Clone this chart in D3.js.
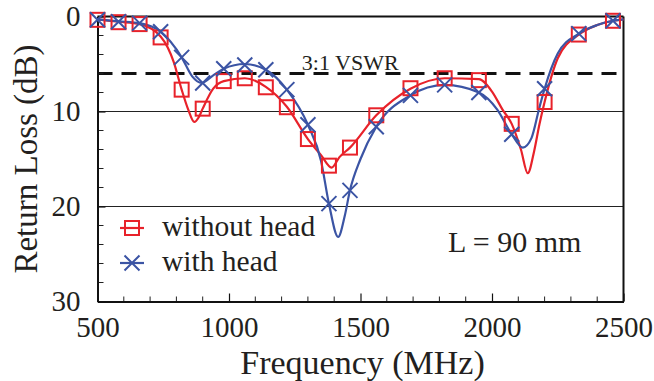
<!DOCTYPE html>
<html>
<head>
<meta charset="utf-8">
<script src="https://cdn.jsdelivr.net/npm/d3@7"></script>
<style>
  body { margin: 0; background: #fff; }
</style>
</head>
<body>
<svg id="chart" width="654" height="381" font-family="Liberation Serif, DejaVu Serif, Times New Roman, serif"></svg>
<script>
// marker frequencies (MHz)
const markerFreq = [500, 580, 660, 740, 820, 900, 980, 1060, 1140, 1220, 1300, 1380, 1460, 1560, 1690, 1820, 1950, 2075, 2200, 2330, 2460];
// return loss at markers (dB)
const noHeadMarks = [0.35, 0.6, 0.8, 2.2, 7.7, 9.7, 6.8, 6.5, 7.45, 9.55, 12.9, 15.7, 13.8, 10.4, 7.55, 6.5, 6.7, 11.3, 9.0, 1.9, 0.45];
const headMarks = [0.35, 0.55, 0.7, 1.6, 4.3, 7.0, 5.5, 5.1, 5.6, 7.7, 11.4, 19.7, 18.3, 11.6, 8.3, 7.2, 8.0, 12.4, 7.6, 1.8, 0.45];

// smooth traces
const noHeadFreq = [500, 580, 660, 740, 790, 820, 845, 868, 885, 900, 940, 980, 1060, 1140, 1220, 1300, 1350, 1390, 1420, 1460, 1560, 1690, 1820, 1950, 2000, 2040, 2075, 2110, 2136, 2160, 2180, 2200, 2250, 2330, 2400, 2460, 2500];
const noHeadLoss = [0.3, 0.55, 0.8, 2.1, 4.8, 7.7, 9.8, 11.1, 10.6, 9.7, 7.6, 6.8, 6.5, 7.4, 9.5, 12.9, 14.6, 15.9, 14.8, 13.8, 10.4, 7.6, 6.5, 6.6, 7.9, 9.8, 11.3, 14.0, 16.5, 14.2, 11.4, 9.0, 4.4, 1.9, 0.9, 0.45, 0.3];
const headFreq = [500, 580, 660, 740, 820, 860, 896, 940, 980, 1060, 1140, 1220, 1300, 1350, 1380, 1415, 1440, 1460, 1500, 1560, 1690, 1820, 1950, 2020, 2075, 2117, 2150, 2180, 2200, 2250, 2330, 2400, 2460, 2500];
const headLoss = [0.3, 0.5, 0.7, 1.6, 4.3, 6.3, 7.0, 6.2, 5.5, 5.0, 5.6, 7.7, 11.4, 15.2, 19.7, 23.2, 21.0, 18.3, 15.0, 11.6, 8.3, 7.2, 8.0, 9.8, 12.4, 13.8, 12.8, 9.6, 7.6, 3.9, 1.8, 0.9, 0.45, 0.3];

const xTicks = [500, 1000, 1500, 2000, 2500];
const yTicks = [0, 10, 20, 30];
const gridLevels = [10, 20];
const vswrLevel = 6;

const red = '#e8222a';
const blue = '#3b54a4';
const ink = '#231f20';

const svg = d3.select('#chart');
const margin = { top: 16.5, right: 30.5, bottom: 79.5, left: 97.5 };
const width = +svg.attr('width') - margin.left - margin.right;
const height = +svg.attr('height') - margin.top - margin.bottom;

const x = d3.scaleLinear().domain([500, 2500]).range([0, width]);
const y = d3.scaleLinear().domain([0, 30]).range([0, height]);

const g = svg.append('g')
    .attr('transform', 'translate(' + margin.left + ',' + margin.top + ')');

// grid lines at 10 and 20 dB
g.selectAll('.grid')
    .data(gridLevels)
    .enter().append('line')
    .attr('x1', 0).attr('x2', width)
    .attr('y1', d => y(d)).attr('y2', d => y(d))
    .attr('stroke', '#222').attr('stroke-width', 1);

// 3:1 VSWR dashed line
g.append('line')
    .attr('x1', 0).attr('x2', width)
    .attr('y1', y(vswrLevel)).attr('y2', y(vswrLevel))
    .attr('stroke', '#111').attr('stroke-width', 3)
    .attr('stroke-dasharray', '15,9');

g.append('text')
    .attr('x', x(1277)).attr('y', y(vswrLevel) - 4)
    .attr('font-size', 22).attr('fill', ink)
    .text('3:1 VSWR');

// minor ticks (inward)
const xMinor = d3.range(600, 2500, 100).filter(d => d % 500 !== 0);
g.selectAll('.xminor')
    .data(xMinor)
    .enter().append('line')
    .attr('x1', d => x(d)).attr('x2', d => x(d))
    .attr('y1', height).attr('y2', height - 5)
    .attr('stroke', '#222').attr('stroke-width', 1);

const yMinor = d3.range(2, 30, 2).filter(d => d % 10 !== 0);
g.selectAll('.yminor')
    .data(yMinor)
    .enter().append('line')
    .attr('x1', 0).attr('x2', 6)
    .attr('y1', d => y(d)).attr('y2', d => y(d))
    .attr('stroke', '#222').attr('stroke-width', 1);

// axes
const xAxis = g.append('g')
    .attr('transform', 'translate(0,' + height + ')')
    .call(d3.axisBottom(x).tickValues(xTicks).tickFormat(d3.format('d'))
      .tickSizeInner(-8).tickSizeOuter(0).tickPadding(15));
const yAxis = g.append('g')
    .call(d3.axisLeft(y).tickValues(yTicks).tickFormat(d3.format('d'))
      .tickSizeInner(-8).tickSizeOuter(0).tickPadding(17));

[xAxis, yAxis].forEach(a => {
  a.attr('font-family', null).attr('font-size', 29);
  a.select('.domain').attr('stroke', '#111').attr('stroke-width', 2);
  a.selectAll('.tick line').attr('stroke', '#111').attr('stroke-width', 1.2);
  a.selectAll('.tick text').attr('fill', ink);
});

// top and right frame
g.append('line').attr('x1', 0).attr('x2', width).attr('y1', 0).attr('y2', 0)
    .attr('stroke', '#111').attr('stroke-width', 2);
g.append('line').attr('x1', width).attr('x2', width).attr('y1', 0).attr('y2', height)
    .attr('stroke', '#111').attr('stroke-width', 2);

// traces
const line = d3.line()
    .x(d => x(d[0]))
    .y(d => y(d[1]))
    .curve(d3.curveMonotoneX);

g.append('path')
    .datum(d3.zip(noHeadFreq, noHeadLoss))
    .attr('fill', 'none').attr('stroke', red).attr('stroke-width', 2.2)
    .attr('d', line);
g.append('path')
    .datum(d3.zip(headFreq, headLoss))
    .attr('fill', 'none').attr('stroke', blue).attr('stroke-width', 2.2)
    .attr('d', line);

// markers
const sq = 14;
g.selectAll('.sq')
    .data(d3.zip(markerFreq, noHeadMarks))
    .enter().append('rect')
    .attr('x', d => x(d[0]) - sq / 2)
    .attr('y', d => y(d[1]) - sq / 2)
    .attr('width', sq).attr('height', sq)
    .attr('fill', 'none').attr('stroke', red).attr('stroke-width', 2);

const cross = 7.5;
const crossPath = (cx, cy) =>
  'M' + (cx - cross) + ',' + (cy - cross) + 'L' + (cx + cross) + ',' + (cy + cross) +
  'M' + (cx - cross) + ',' + (cy + cross) + 'L' + (cx + cross) + ',' + (cy - cross);
g.selectAll('.xm')
    .data(d3.zip(markerFreq, headMarks))
    .enter().append('path')
    .attr('d', d => crossPath(x(d[0]), y(d[1])))
    .attr('fill', 'none').attr('stroke', blue).attr('stroke-width', 2);

// legend
const legend = svg.append('g').attr('transform', 'translate(120,228)');
legend.append('line').attr('x1', 0).attr('x2', 24).attr('y1', 0).attr('y2', 0)
    .attr('stroke', red).attr('stroke-width', 2.2);
legend.append('rect').attr('x', 5).attr('y', -7).attr('width', 14).attr('height', 14)
    .attr('fill', 'none').attr('stroke', red).attr('stroke-width', 2);
legend.append('text').attr('x', 42).attr('y', 8)
    .attr('font-size', 29.5).attr('fill', ink).text('without head');
legend.append('line').attr('x1', 0).attr('x2', 24).attr('y1', 35).attr('y2', 35)
    .attr('stroke', blue).attr('stroke-width', 2.2);
legend.append('path').attr('d', crossPath(12, 35))
    .attr('fill', 'none').attr('stroke', blue).attr('stroke-width', 2);
legend.append('text').attr('x', 42).attr('y', 43)
    .attr('font-size', 29.5).attr('fill', ink).text('with head');

// annotation
svg.append('text')
    .attr('x', 448).attr('y', 252)
    .attr('font-size', 30).attr('fill', ink)
    .text('L = 90 mm');

// axis titles
svg.append('text')
    .attr('x', margin.left + width / 2 + 2).attr('y', 374)
    .attr('text-anchor', 'middle')
    .attr('font-size', 34).attr('fill', ink)
    .text('Frequency (MHz)');
svg.append('text')
    .attr('transform', 'rotate(-90)')
    .attr('x', -(margin.top + height / 2)).attr('y', 37)
    .attr('text-anchor', 'middle')
    .attr('font-size', 33).attr('fill', ink)
    .text('Return Loss (dB)');
</script>
</body>
</html>
